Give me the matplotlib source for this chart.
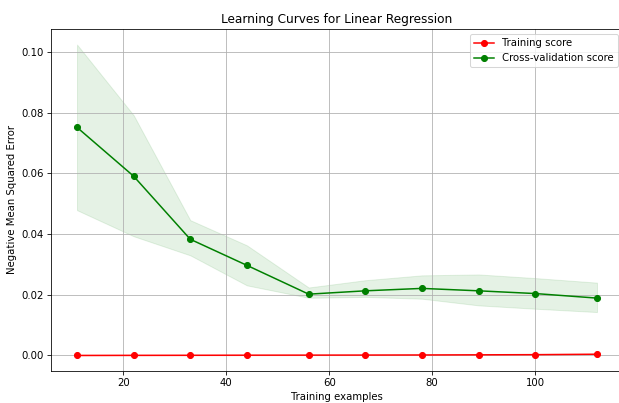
import numpy as np
import matplotlib
matplotlib.use('Agg')
import matplotlib.pyplot as plt

# training set sizes
train_sizes = np.array([11, 22, 33, 44, 56, 67, 78, 89, 100, 112])

# mean scores (negated MSE) and the spread shown as bands
train_mean = np.array([0.0, 0.00003, 0.00005, 0.00008, 0.0001, 0.00012, 0.00015, 0.0002, 0.00025, 0.0004])
train_std = np.array([0.00001, 0.00002, 0.00002, 0.00003, 0.00003, 0.00003, 0.00004, 0.00004, 0.00005, 0.00006])
cv_mean = np.array([0.0752, 0.0591, 0.0383, 0.0297, 0.0202, 0.0213, 0.0221, 0.0213, 0.0204, 0.0189])
cv_upper = np.array([0.1025, 0.0792, 0.0446, 0.0363, 0.0224, 0.0248, 0.0264, 0.0267, 0.0255, 0.0240])
cv_lower = np.array([0.0479, 0.0393, 0.0330, 0.0231, 0.0190, 0.0193, 0.0187, 0.0165, 0.0154, 0.0143])

DPI = 72.5
W, H = 619, 403
fig = plt.figure(figsize=(W / DPI, H / DPI), dpi=DPI)
# right edge of the axes runs just past the picture, like the reference
ax = fig.add_axes([51 / W, 1 - 371 / H, 572 / W, 342 / H])

ax.fill_between(train_sizes, train_mean - train_std, train_mean + train_std, alpha=0.1, color='r')
ax.fill_between(train_sizes, cv_lower, cv_upper, alpha=0.1, color='g')
ax.plot(train_sizes, train_mean, 'o-', color='r', label='Training score')
ax.plot(train_sizes, cv_mean, 'o-', color='g', label='Cross-validation score')

ax.set_title('Learning Curves for Linear Regression')
ax.set_xlabel('Training examples')
ax.set_ylabel('Negative Mean Squared Error')
ax.grid(True)
ax.legend(loc='best')

plt.savefig('out.png', dpi=DPI)
